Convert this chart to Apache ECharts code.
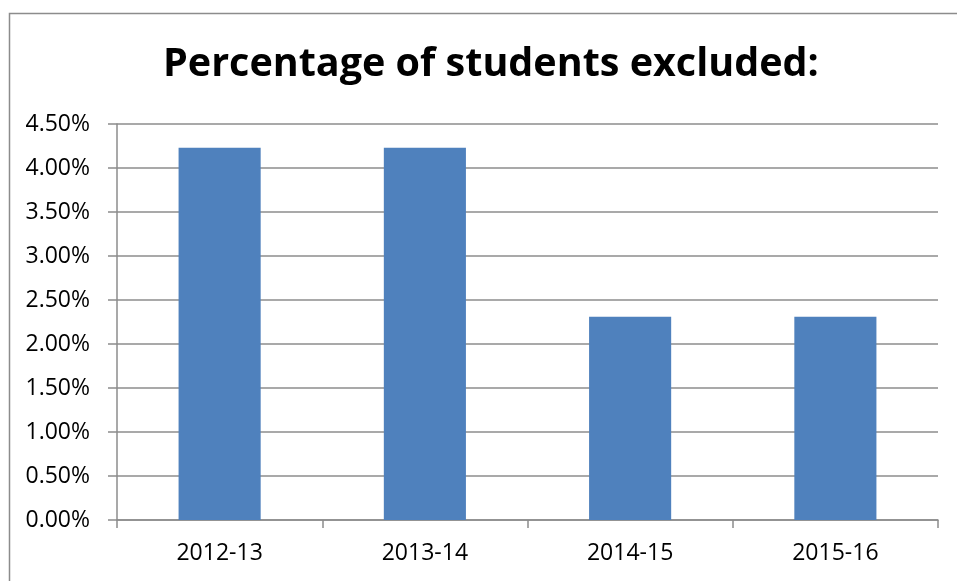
<!DOCTYPE html>
<html>
<head>
<meta charset="utf-8">
<script src="https://cdn.jsdelivr.net/npm/echarts@6/dist/echarts.min.js"></script>
<style>
html,body{margin:0;padding:0;background:#fff;}
#chart{width:957px;height:581px;}
</style>
</head>
<body>
<div id="chart"></div>
<script>
const titleText = 'Percentage of students excluded:';
const categories = ['2012-13', '2013-14', '2014-15', '2015-16'];
const values = [4.23, 4.23, 2.31, 2.31];
const yTickLabels = ['0.00%', '0.50%', '1.00%', '1.50%', '2.00%', '2.50%', '3.00%', '3.50%', '4.00%', '4.50%'];

const chart = echarts.init(document.getElementById('chart'), null, {renderer: 'canvas'});
const fontFam = '"Open Sans", Lato, sans-serif';
chart.setOption({
  animation: false,
  backgroundColor: '#fff',
  graphic: [{
    type: 'rect',
    left: 7, top: 11,
    shape: {width: 1100, height: 800},
    style: {fill: 'none', stroke: '#8c8c8c', lineWidth: 1.5},
    silent: true
  }],
  title: {
    text: titleText,
    left: 158,
    top: 40,
    textStyle: {fontFamily: fontFam, fontWeight: 'bold', fontSize: 39.5, color: '#000'}
  },
  grid: {left: 117, right: 19, top: 124, bottom: 61, containLabel: false},
  xAxis: {
    type: 'category',
    data: categories,
    axisLine: {lineStyle: {color: '#8c8c8c', width: 1.5}},
    axisTick: {show: true, alignWithLabel: false, length: 8, lineStyle: {color: '#8c8c8c', width: 1.5}},
    axisLabel: {fontFamily: fontFam, fontSize: 23, color: '#000', margin: 22}
  },
  yAxis: {
    type: 'value',
    min: 0, max: 4.5, interval: 0.5,
    axisLine: {show: true, lineStyle: {color: '#8c8c8c', width: 1.5}},
    axisTick: {show: true, length: 9, lineStyle: {color: '#8c8c8c', width: 1.5}},
    splitLine: {show: true, lineStyle: {color: '#8c8c8c', width: 1.5}},
    axisLabel: {
      fontFamily: fontFam, fontSize: 23, color: '#000', margin: 27,
      formatter: function (v) { return yTickLabels[Math.round(v / 0.5)]; }
    }
  },
  series: [{
    type: 'bar',
    data: values,
    barWidth: '40%',
    itemStyle: {color: '#4F81BD'}
  }]
});
</script>
</body>
</html>
